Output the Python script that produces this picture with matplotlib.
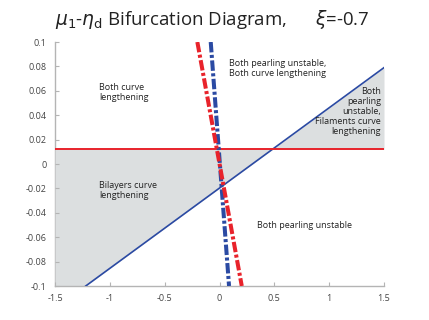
import numpy as np
import matplotlib
matplotlib.use("Agg")
import matplotlib.pyplot as plt

# ---- data ----
blue_line_x = [-1.22, 1.5]
blue_line_y = [-0.1, 0.079]
red_level = 0.012
red_dash_x = [-0.202, 0.203]
red_dash_y = [0.1, -0.1]
blue_dash_x = [-0.080, 0.087]
blue_dash_y = [0.1, -0.1]
xlim = [-1.5, 1.5]
ylim = [-0.1, 0.1]
xticks = [-1.5, -1, -0.5, 0, 0.5, 1, 1.5]
xticklabels = ["-1.5", "-1", "-0.5", "0", "0.5", "1", "1.5"]
yticks = [-0.1, -0.08, -0.06, -0.04, -0.02, 0, 0.02, 0.04, 0.06, 0.08, 0.1]
yticklabels = ["-0.1", "-0.08", "-0.06", "-0.04", "-0.02", "0", "0.02", "0.04", "0.06", "0.08", "0.1"]
labels = [
    ("Both curve\nlengthening", -1.099, 0.0664, "left"),
    ("Bilayers curve\nlengthening", -1.099, -0.0139, "left"),
    ("Both pearling unstable,\nBoth curve lengthening", 0.087, 0.086, "left"),
    ("Both\npearling\nunstable,\nFilaments curve\nlengthening", 1.473, 0.063, "right"),
    ("Both pearling unstable", 0.342, -0.0465, "left"),
]

plt.rcParams['font.family'] = ['Open Sans', 'DejaVu Sans']
plt.rcParams['lines.scale_dashes'] = False
plt.rcParams['mathtext.fontset'] = 'dejavusans'

RED = '#e8232b'
BLUE = '#2b4aa3'
GRAY = '#b4b4b4'

fig = plt.figure(figsize=(4.29, 3.2), dpi=100)
ax = fig.add_axes([55/429, 34/320, 329/429, 244/320])

# shading
slope = (blue_line_y[1] - blue_line_y[0]) / (blue_line_x[1] - blue_line_x[0])
xs = np.linspace(xlim[0], xlim[1], 601)
blue = blue_line_y[0] + slope * (xs - blue_line_x[0])
bclip = np.clip(blue, ylim[0], ylim[1])
red = np.full_like(xs, red_level)
ax.fill_between(xs, bclip, red, where=bclip <= red, color='#dcdfe0', lw=0, interpolate=True)
ax.fill_between(xs, red, bclip, where=bclip >= red, color='#dcdfe0', lw=0, interpolate=True)

ax.plot(blue_line_x, blue_line_y, color=BLUE, lw=1.2, zorder=3)
ax.plot(xlim, [red_level, red_level], color=RED, lw=1.4, zorder=3)
ax.plot(blue_dash_x, blue_dash_y, color=BLUE, lw=2.9, dashes=(7.5, 1.8, 2.2, 1.8), zorder=4)
ax.plot(red_dash_x, red_dash_y, color=RED, lw=2.9, dashes=(7.5, 1.8, 2.2, 1.8), zorder=5)

for txt, x, y, ha in labels:
    ax.text(x, y, txt, ha=ha, va='top', fontsize=6.5, color='#222222', linespacing=1.15, zorder=6)

ax.set_xlim(xlim)
ax.set_ylim(ylim)
ax.set_xticks(xticks)
ax.set_xticklabels(xticklabels)
ax.set_yticks(yticks)
ax.set_yticklabels(yticklabels)
ax.tick_params(direction='in', length=3, width=0.8, color=GRAY, labelsize=6.5,
               labelcolor='#444444', pad=6)
for s in ['top', 'right']:
    ax.spines[s].set_visible(False)
for s in ['left', 'bottom']:
    ax.spines[s].set_color(GRAY)
    ax.spines[s].set_linewidth(1.0)
ax.spines['left'].set_zorder(0.5)

fig.text(55/429, 1 - 25/320, r'$\mu_1$-$\eta_\mathrm{d}$ Bifurcation Diagram,      $\xi$=-0.7',
         fontsize=13.4, color='#222222', va='baseline', ha='left')

fig.savefig('out.png', dpi=100)
